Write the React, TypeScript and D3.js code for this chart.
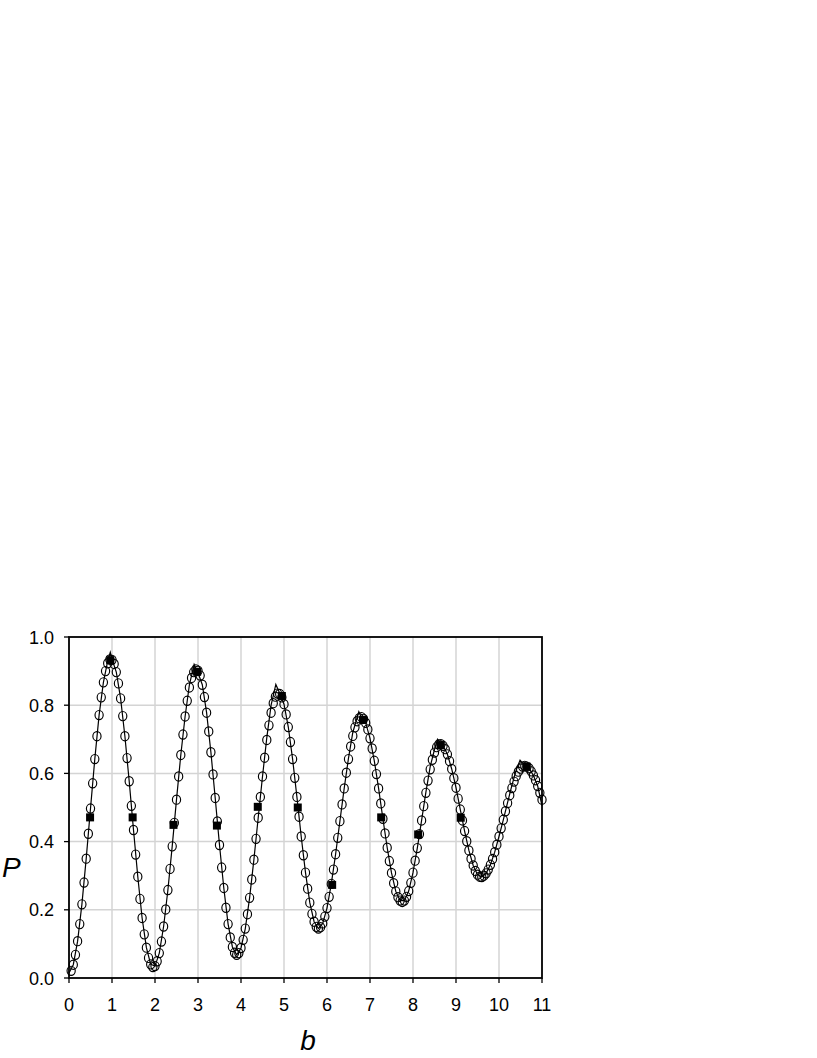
import React from "react";
import * as d3 from "d3";

// measured points (open circles), [b, P]
const circles: [number, number][] = [
  [0.05, 0.021], [0.1, 0.039], [0.15, 0.068], [0.2, 0.108], [0.25, 0.158], [0.3, 0.216], [0.35, 0.28], [0.4, 0.35], [0.45, 0.423], [0.5, 0.497],
  [0.55, 0.571], [0.6, 0.642], [0.65, 0.709], [0.7, 0.771], [0.75, 0.823], [0.8, 0.867], [0.85, 0.9], [0.9, 0.923], [0.95, 0.934],
  [1.0, 0.933], [1.05, 0.921], [1.1, 0.897], [1.15, 0.864], [1.2, 0.82], [1.25, 0.768], [1.3, 0.709], [1.35, 0.645], [1.4, 0.577], [1.45, 0.505],
  [1.5, 0.434], [1.55, 0.362], [1.6, 0.297], [1.65, 0.232], [1.7, 0.176], [1.75, 0.128], [1.8, 0.089], [1.85, 0.059], [1.9, 0.04], [1.95, 0.032],
  [2.0, 0.035], [2.05, 0.049], [2.1, 0.073], [2.15, 0.107], [2.2, 0.151], [2.25, 0.201], [2.3, 0.258], [2.35, 0.32], [2.4, 0.386], [2.45, 0.455],
  [2.5, 0.523], [2.55, 0.591], [2.6, 0.654], [2.65, 0.714], [2.7, 0.767], [2.75, 0.813], [2.8, 0.852], [2.85, 0.88], [2.9, 0.897], [2.95, 0.905],
  [3.0, 0.901], [3.05, 0.887], [3.1, 0.86], [3.15, 0.824], [3.2, 0.778], [3.25, 0.723], [3.3, 0.662], [3.35, 0.597], [3.4, 0.528], [3.45, 0.459],
  [3.5, 0.39], [3.55, 0.324], [3.6, 0.264], [3.65, 0.206], [3.7, 0.158], [3.75, 0.119], [3.8, 0.091], [3.85, 0.074], [3.9, 0.068],
  [3.95, 0.073], [4.0, 0.088], [4.05, 0.112], [4.1, 0.145], [4.15, 0.187], [4.2, 0.235], [4.25, 0.289], [4.3, 0.347], [4.35, 0.408], [4.4, 0.47],
  [4.45, 0.531], [4.5, 0.591], [4.55, 0.646], [4.6, 0.698], [4.65, 0.741], [4.7, 0.778], [4.75, 0.806], [4.8, 0.825], [4.85, 0.834],
  [4.9, 0.833], [4.95, 0.823], [5.0, 0.803], [5.05, 0.773], [5.1, 0.736], [5.15, 0.692], [5.2, 0.642], [5.25, 0.587], [5.3, 0.531], [5.35, 0.473],
  [5.4, 0.415], [5.45, 0.36], [5.5, 0.309], [5.55, 0.262], [5.6, 0.221], [5.65, 0.188], [5.7, 0.165], [5.75, 0.15], [5.8, 0.145],
  [5.85, 0.149], [5.9, 0.16], [5.95, 0.18], [6.0, 0.205], [6.05, 0.238], [6.1, 0.276], [6.15, 0.318], [6.2, 0.363], [6.25, 0.411], [6.3, 0.46],
  [6.35, 0.509], [6.4, 0.556], [6.45, 0.602], [6.5, 0.642], [6.55, 0.679], [6.6, 0.71], [6.65, 0.735], [6.7, 0.753], [6.75, 0.762],
  [6.8, 0.765], [6.85, 0.76], [6.9, 0.748], [6.95, 0.729], [7.0, 0.703], [7.05, 0.673], [7.1, 0.637], [7.15, 0.598], [7.2, 0.556], [7.25, 0.512],
  [7.3, 0.467], [7.35, 0.424], [7.4, 0.382], [7.45, 0.343], [7.5, 0.308], [7.55, 0.278], [7.6, 0.254], [7.65, 0.237], [7.7, 0.227], [7.75, 0.223],
  [7.8, 0.227], [7.85, 0.238], [7.9, 0.255], [7.95, 0.279], [8.0, 0.309], [8.05, 0.344], [8.1, 0.381], [8.15, 0.422], [8.2, 0.462], [8.25, 0.504],
  [8.3, 0.543], [8.35, 0.579], [8.4, 0.612], [8.45, 0.64], [8.5, 0.661], [8.55, 0.677], [8.6, 0.685],
  [8.65, 0.686], [8.7, 0.681], [8.75, 0.671], [8.8, 0.656], [8.85, 0.636], [8.9, 0.613], [8.95, 0.586], [9.0, 0.558], [9.05, 0.526], [9.1, 0.494],
  [9.15, 0.462], [9.2, 0.431], [9.25, 0.401], [9.3, 0.374], [9.35, 0.35], [9.4, 0.33], [9.45, 0.314], [9.5, 0.303], [9.55, 0.297],
  [9.6, 0.296], [9.65, 0.3], [9.7, 0.307], [9.75, 0.318], [9.8, 0.332], [9.85, 0.349], [9.9, 0.369], [9.95, 0.391], [10.0, 0.415], [10.05, 0.439],
  [10.1, 0.464], [10.15, 0.489], [10.2, 0.513], [10.25, 0.536], [10.3, 0.557], [10.35, 0.576], [10.4, 0.592], [10.45, 0.605], [10.5, 0.614], [10.55, 0.62], [10.6, 0.622],
  [10.65, 0.62], [10.7, 0.615], [10.75, 0.606], [10.8, 0.594], [10.85, 0.58], [10.9, 0.563], [10.95, 0.543], [11.0, 0.523],
];

// filled squares, [b, P]
const squares: [number, number][] = [
  [0.49, 0.471], [0.96, 0.932], [1.48, 0.471],
  [2.43, 0.449], [2.98, 0.898], [3.44, 0.447],
  [4.39, 0.502], [4.95, 0.827], [5.32, 0.5],
  [6.12, 0.273], [6.84, 0.757], [7.26, 0.471],
  [8.12, 0.421], [8.64, 0.683], [9.11, 0.47],
  [10.64, 0.62],
];

// theory curve, [b, P]
const curve: [number, number][] = [
  [0.0, 0.015], [0.1, 0.039], [0.2, 0.108], [0.3, 0.216], [0.4, 0.35], [0.5, 0.497], [0.6, 0.642], [0.7, 0.771], [0.8, 0.867], [0.9, 0.93],
  [0.96, 0.955], [1.0, 0.935], [1.1, 0.897], [1.2, 0.82], [1.3, 0.709], [1.4, 0.577], [1.5, 0.434], [1.6, 0.297], [1.7, 0.176], [1.8, 0.089], [1.9, 0.04],
  [2.0, 0.035], [2.1, 0.073], [2.2, 0.151], [2.3, 0.258], [2.4, 0.386], [2.5, 0.523], [2.6, 0.654], [2.7, 0.767], [2.8, 0.86],
  [2.91, 0.92], [3.0, 0.895], [3.1, 0.86], [3.2, 0.778], [3.3, 0.662], [3.4, 0.528], [3.5, 0.39], [3.6, 0.264], [3.7, 0.158], [3.8, 0.091], [3.9, 0.068],
  [4.0, 0.088], [4.1, 0.145], [4.2, 0.235], [4.3, 0.347], [4.4, 0.47], [4.5, 0.591], [4.6, 0.705], [4.7, 0.8],
  [4.81, 0.861], [4.9, 0.835], [5.0, 0.803], [5.1, 0.736], [5.2, 0.642], [5.3, 0.531], [5.4, 0.415], [5.5, 0.309], [5.6, 0.221], [5.7, 0.165], [5.8, 0.145],
  [5.9, 0.16], [6.0, 0.205], [6.1, 0.276], [6.2, 0.363], [6.3, 0.46], [6.4, 0.556], [6.5, 0.645], [6.6, 0.72],
  [6.74, 0.781], [6.8, 0.765], [6.9, 0.748], [7.0, 0.703], [7.1, 0.637], [7.2, 0.556], [7.3, 0.467], [7.4, 0.382], [7.5, 0.308], [7.6, 0.254], [7.7, 0.227],
  [7.8, 0.227], [7.9, 0.255], [8.0, 0.309], [8.1, 0.381], [8.2, 0.462], [8.3, 0.545], [8.4, 0.62], [8.5, 0.67],
  [8.57, 0.7], [8.7, 0.681], [8.8, 0.656], [8.9, 0.613], [9.0, 0.558], [9.1, 0.494], [9.2, 0.431], [9.3, 0.374], [9.4, 0.33], [9.5, 0.303], [9.6, 0.296],
  [9.7, 0.307], [9.8, 0.332], [9.9, 0.369], [10.0, 0.415], [10.1, 0.464], [10.2, 0.515], [10.3, 0.565], [10.4, 0.61],
  [10.49, 0.639], [10.6, 0.622], [10.7, 0.615], [10.8, 0.594], [10.9, 0.563], [11.0, 0.505],
];

const xTicks = [0, 1, 2, 3, 4, 5, 6, 7, 8, 9, 10, 11];
const yTicks = [0, 0.2, 0.4, 0.6, 0.8, 1.0];

const W = 817;
const H = 1058;
const left = 69, right = 542, top = 637, bottom = 978;

export default function App() {
  const x = d3.scaleLinear().domain([0, 11]).range([left, right]);
  const y = d3.scaleLinear().domain([0, 1]).range([bottom, top]);
  const line = d3.line<[number, number]>().x(d => x(d[0])).y(d => y(d[1]));
  const font = "'Liberation Sans', Arial, sans-serif";

  return (
    <svg width={W} height={H} style={{ position: "absolute", left: 0, top: 0, background: "#fff" }}>
      {/* grid */}
      {xTicks.slice(1, -1).map(t => (
        <line key={"gx" + t} x1={x(t)} x2={x(t)} y1={top} y2={bottom} stroke="#d4d4d4" strokeWidth={1.5} />
      ))}
      {yTicks.slice(1, -1).map(t => (
        <line key={"gy" + t} x1={left} x2={right} y1={y(t)} y2={y(t)} stroke="#d4d4d4" strokeWidth={1.5} />
      ))}

      {/* theory curve */}
      <path d={line(curve) || ""} fill="none" stroke="#000" strokeWidth={1.2} />

      {/* open circles */}
      {circles.map((d, i) => (
        <ellipse key={"c" + i} cx={x(d[0])} cy={y(d[1])} rx={4.1} ry={4.6} fill="none" stroke="#000" strokeWidth={1.15} />
      ))}

      {/* squares */}
      {squares.map((d, i) => (
        <rect key={"s" + i} x={x(d[0]) - 4} y={y(d[1]) - 4} width={8} height={8} fill="#000" />
      ))}

      {/* frame */}
      <rect x={left} y={top} width={right - left} height={bottom - top} fill="none" stroke="#000" strokeWidth={1.8} />

      {/* x ticks */}
      {xTicks.map(t => (
        <g key={"xt" + t}>
          <line x1={x(t)} x2={x(t)} y1={bottom} y2={bottom + 5} stroke="#000" strokeWidth={1.3} />
          <text x={x(t)} y={1011} textAnchor="middle" fontFamily={font} fontSize={18} fill="#000">
            {t}
          </text>
        </g>
      ))}

      {/* y ticks */}
      {yTicks.map(t => (
        <g key={"yt" + t}>
          <line x1={left - 5} x2={left} y1={y(t)} y2={y(t)} stroke="#000" strokeWidth={1.3} />
          <text x={54} y={y(t) + 6.5} textAnchor="end" fontFamily={font} fontSize={18} fill="#000">
            {d3.format(".1f")(t)}
          </text>
        </g>
      ))}

      {/* axis titles */}
      <text x={2} y={877} fontFamily={font} fontStyle="italic" fontSize={28} fill="#000">P</text>
      <text x={308} y={1050} textAnchor="middle" fontFamily={font} fontStyle="italic" fontSize={28} fill="#000">b</text>
    </svg>
  );
}
